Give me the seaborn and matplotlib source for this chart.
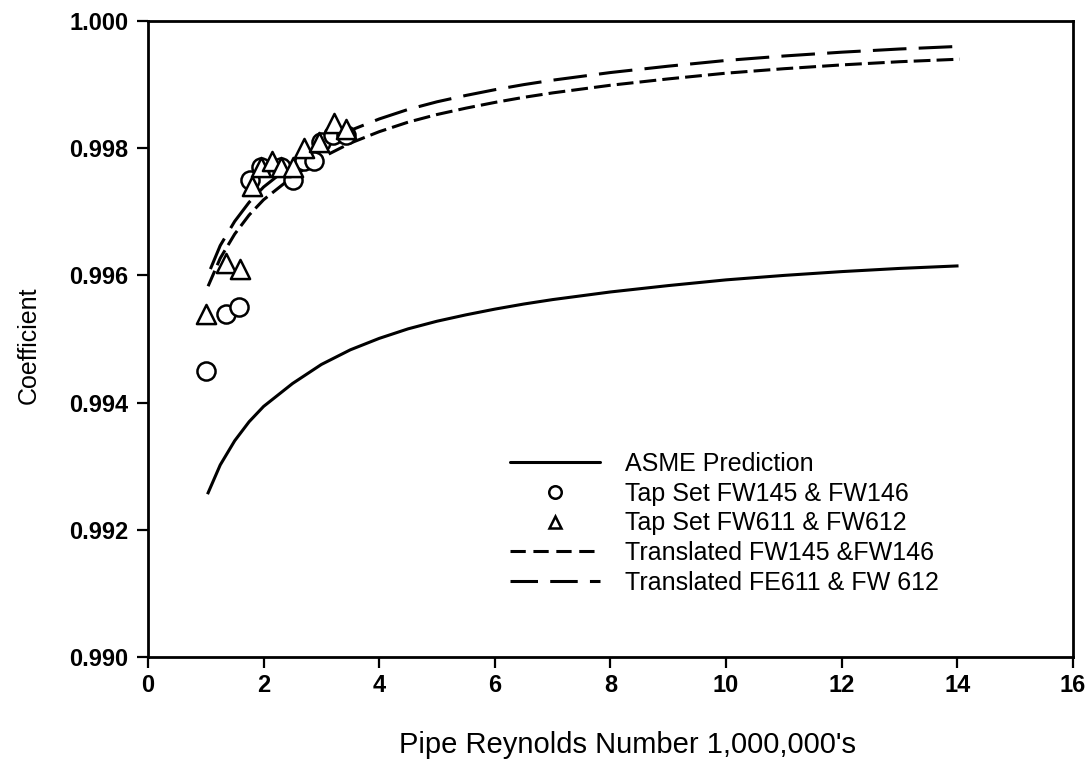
import matplotlib
matplotlib.use("Agg")
import matplotlib.pyplot as plt
import seaborn as sns
from matplotlib.lines import Line2D

# ---- data ----
asme_x = [1.03, 1.25, 1.5, 1.75, 2.0, 2.5, 3.0, 3.5, 4.0, 4.5, 5.0, 5.5, 6.0, 6.5,
          7.0, 8.0, 9.0, 10.0, 11.0, 12.0, 13.0, 14.02]
asme_y = [0.99256, 0.99302, 0.99340, 0.99370, 0.99394, 0.99430, 0.99460, 0.99483,
          0.99501, 0.99516, 0.99528, 0.99538, 0.99547, 0.99555, 0.99562, 0.99574,
          0.99584, 0.99593, 0.99600, 0.99606, 0.99611, 0.99615]

fw145_x = [1.0, 1.35, 1.58, 1.77, 1.95, 2.3, 2.5, 2.7, 2.87, 3.0, 3.2, 3.42]
fw145_y = [0.9945, 0.9954, 0.9955, 0.9975, 0.9977, 0.9977, 0.9975, 0.9978, 0.9978,
           0.9981, 0.9982, 0.9982]

fw611_x = [1.0, 1.35, 1.6, 1.8, 1.95, 2.15, 2.3, 2.5, 2.7, 2.95, 3.22, 3.42]
fw611_y = [0.9954, 0.9962, 0.9961, 0.9974, 0.9977, 0.9978, 0.9977, 0.9977, 0.9980,
           0.9981, 0.9984, 0.9983]

tr145_x = [1.04, 1.25, 1.5, 1.75, 2.0, 2.5, 3.0, 3.5, 4.0, 4.5, 5.0, 5.5, 6.0, 6.5,
           7.0, 8.0, 9.0, 10.0, 11.0, 12.0, 13.0, 14.04]
tr145_y = [0.99583, 0.99627, 0.99665, 0.99695, 0.99719, 0.99755, 0.99785, 0.99808,
           0.99826, 0.99841, 0.99853, 0.99863, 0.99872, 0.99880, 0.99887, 0.99899,
           0.99909, 0.99918, 0.99925, 0.99931, 0.99936, 0.99940]

tr611_x = [1.08, 1.25, 1.5, 1.75, 2.0, 2.5, 3.0, 3.5, 4.0, 4.5, 5.0, 5.5, 6.0, 6.5,
           7.0, 8.0, 9.0, 10.0, 11.0, 12.0, 13.0, 14.0]
tr611_y = [0.99610, 0.99647, 0.99685, 0.99715, 0.99739, 0.99775, 0.99805, 0.99828,
           0.99846, 0.99861, 0.99873, 0.99883, 0.99892, 0.99900, 0.99907, 0.99919,
           0.99929, 0.99938, 0.99945, 0.99951, 0.99956, 0.99960]

labels = ["ASME Prediction", "Tap Set FW145 & FW146", "Tap Set FW611 & FW612",
          "Translated FW145 &FW146", "Translated FE611 & FW 612"]
x_ticks = [0, 2, 4, 6, 8, 10, 12, 14, 16]
y_ticks = [0.990, 0.992, 0.994, 0.996, 0.998, 1.000]

# ---- style ----
sns.set_theme(style="ticks")
plt.rcParams["font.family"] = ["Liberation Sans", "DejaVu Sans"]
plt.rcParams.update({"text.color": "black", "axes.labelcolor": "black",
                     "xtick.color": "black", "ytick.color": "black",
                     "xtick.labelcolor": "black", "ytick.labelcolor": "black"})

fig = plt.figure(figsize=(10.92, 7.67), dpi=100)
ax = fig.add_axes([0.1355, 0.1434, 0.8471, 0.8292])

LW = 2.2
short_dash = (5.5, 2.0)
long_dash = (11.0, 4.0)

sns.lineplot(x=asme_x, y=asme_y, ax=ax, color="black", linewidth=LW,
             solid_capstyle="butt")
sns.lineplot(x=tr145_x, y=tr145_y, ax=ax, color="black", linewidth=LW,
             dashes=False, linestyle=(0, short_dash), dash_capstyle="butt")
sns.lineplot(x=tr611_x, y=tr611_y, ax=ax, color="black", linewidth=LW,
             dashes=False, linestyle=(0, long_dash), dash_capstyle="butt")
sns.scatterplot(x=fw145_x, y=fw145_y, ax=ax, marker="o", s=170,
                facecolor="white", edgecolor="black", linewidth=1.8, zorder=3)
sns.scatterplot(x=fw611_x, y=fw611_y, ax=ax, marker="^", s=190,
                facecolor="white", edgecolor="black", linewidth=1.8, zorder=4)

ax.set_xlim(0, 16)
ax.set_ylim(0.990, 1.000)
ax.set_xticks(x_ticks)
ax.set_xticklabels([str(t) for t in x_ticks])
ax.set_yticks(y_ticks)
ax.set_yticklabels([f"{t:.3f}" for t in y_ticks])
ax.tick_params(axis="both", direction="out", length=8, width=1.6, color="black",
               labelcolor="black", labelsize=17, pad=6)
ax.tick_params(axis="x", pad=4)
for lab in ax.get_xticklabels() + ax.get_yticklabels():
    lab.set_fontweight("bold")
for sp in ax.spines.values():
    sp.set_linewidth(2.0)
    sp.set_color("black")
    sp.set_visible(True)

ax.set_xlabel("Pipe Reynolds Number 1,000,000's", fontsize=21, color="black")
ax.xaxis.set_label_coords(0.518, -0.117)
ax.set_ylabel("Coefficient", fontsize=18, color="black")
ax.yaxis.set_label_coords(-0.1157, 0.49)

handles = [
    Line2D([], [], color="black", lw=LW),
    Line2D([], [], color="black", lw=0, marker="o", markersize=9,
           markerfacecolor="white", markeredgewidth=1.8),
    Line2D([], [], color="black", lw=0, marker="^", markersize=9,
           markerfacecolor="white", markeredgewidth=1.8),
    Line2D([], [], color="black", lw=LW, linestyle=(0, (5.0, 2.5)),
           dash_capstyle="butt"),
    Line2D([], [], color="black", lw=LW, linestyle=(0, (9.0, 4.0)),
           dash_capstyle="butt"),
]
leg = ax.legend(handles, labels, loc="upper left", bbox_to_anchor=(0.3724, 0.350),
                frameon=False, fontsize=18, handlelength=3.6, handletextpad=1.0,
                labelspacing=0.23, borderpad=0.2, labelcolor="black")

fig.savefig("out.png", dpi=100, facecolor="white")
